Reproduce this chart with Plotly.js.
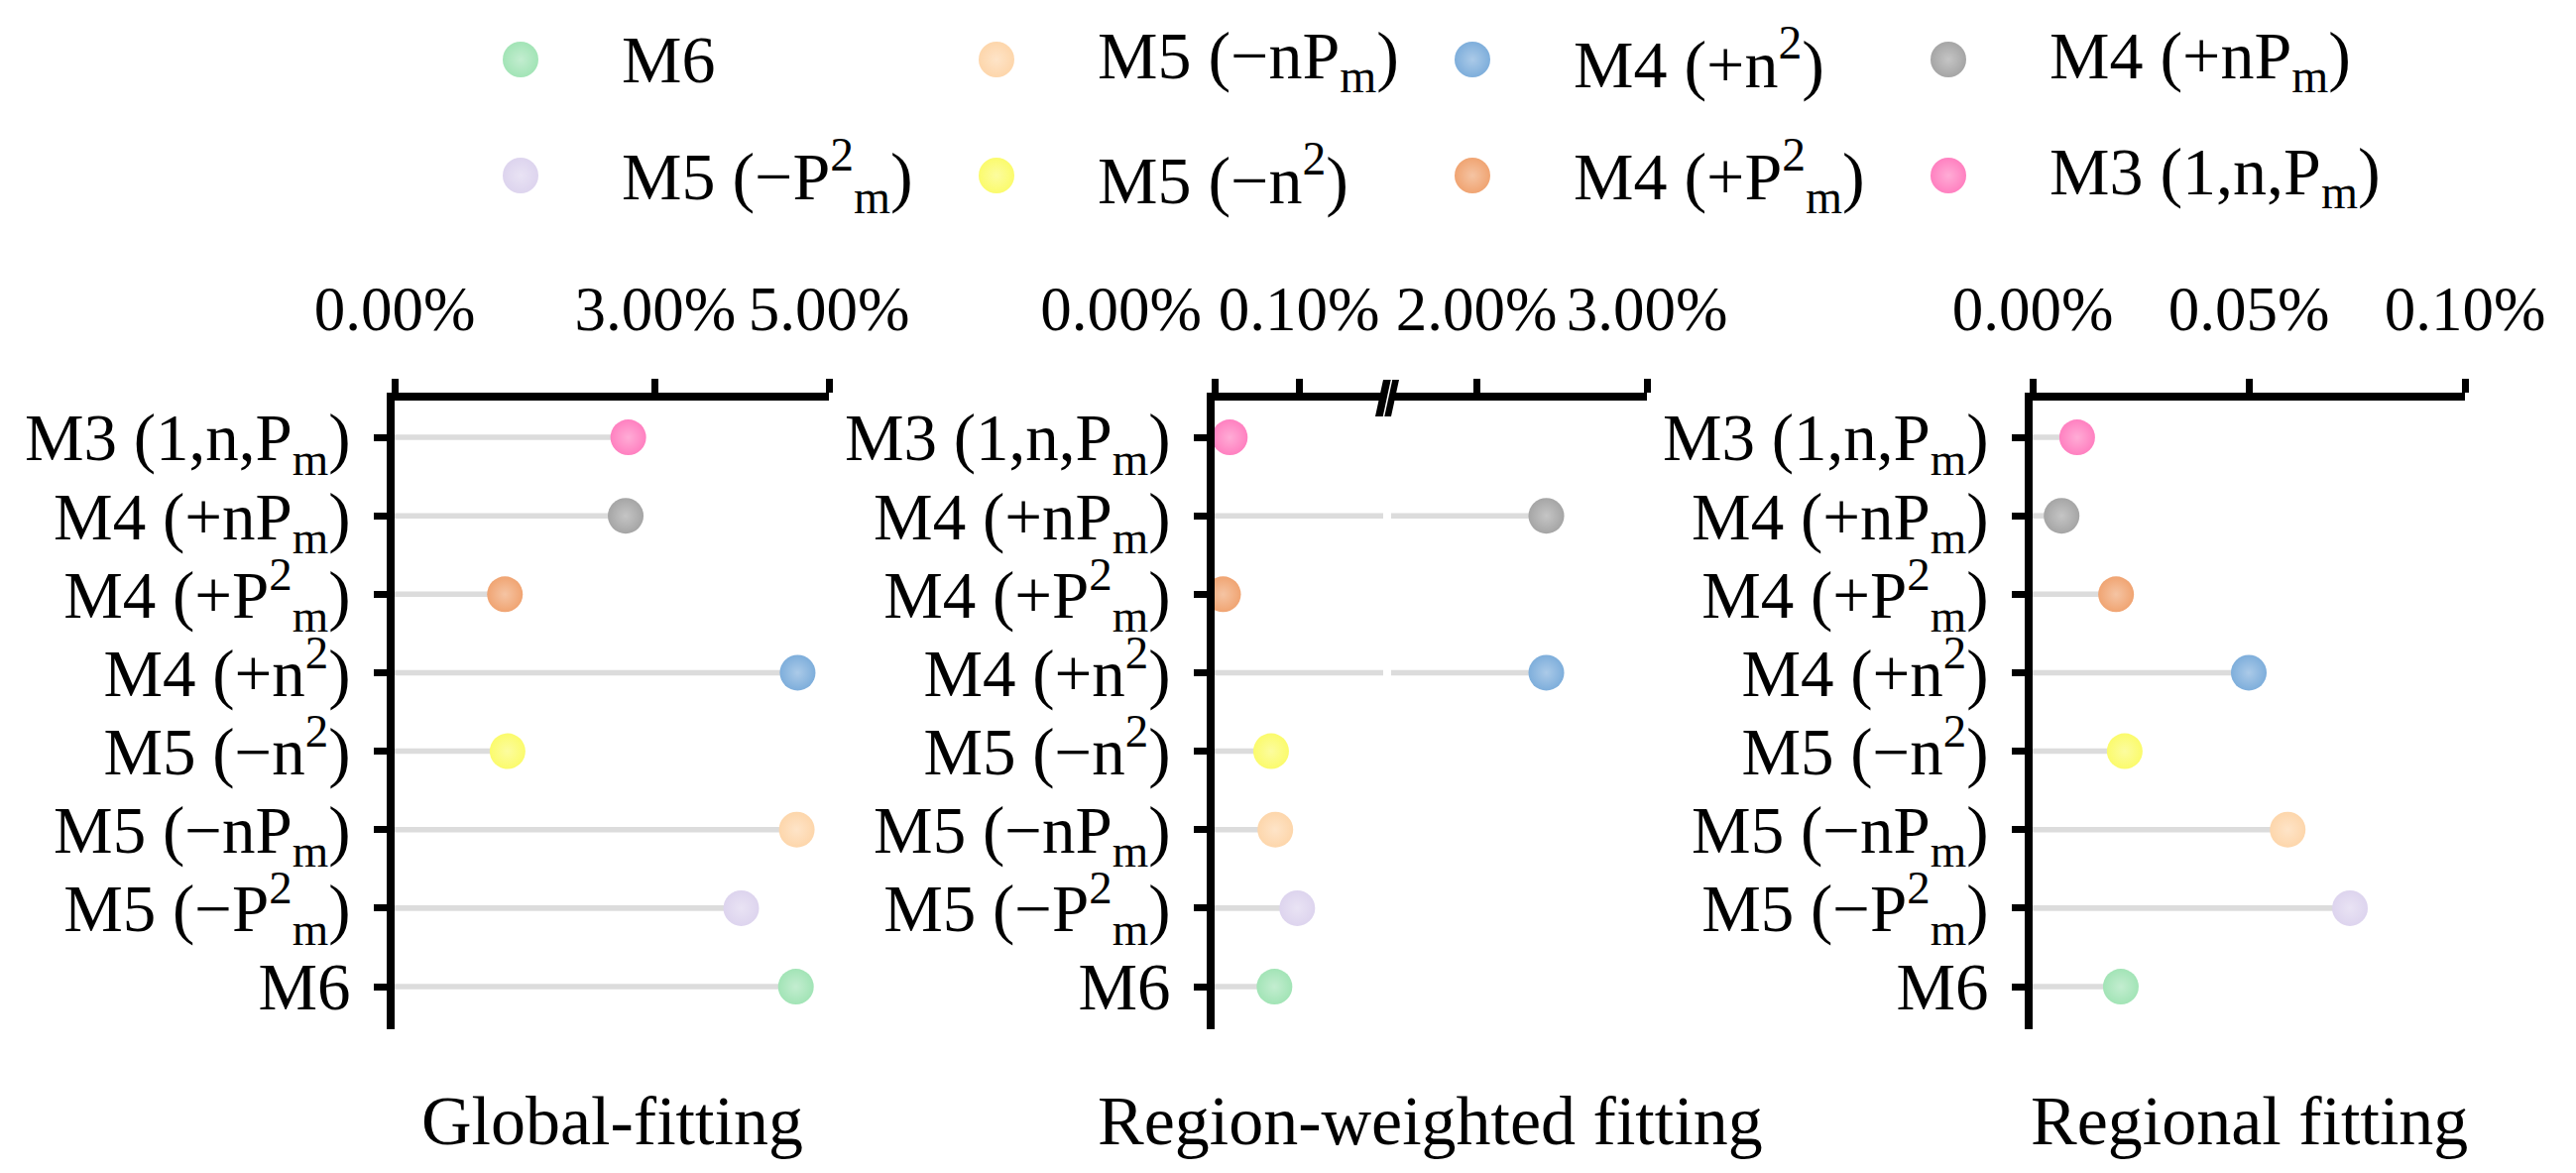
<!DOCTYPE html>
<html>
<head>
<meta charset="utf-8">
<script src="https://cdn.plot.ly/plotly-3.0.1.min.js"></script>
<style>html,body{margin:0;padding:0;background:#fff;}#chart{width:2598px;height:1183px;}</style>
</head>
<body>
<div id="chart"></div>
<script>
// ---------------- data ----------------
const categories = [
  "M3 (1,n,P<sub>m</sub>)",
  "M4 (+nP<sub>m</sub>)",
  "M4 (+P<sup>2</sup><sub>m</sub>)",
  "M4 (+n<sup>2</sup>)",
  "M5 (\u2212n<sup>2</sup>)",
  "M5 (\u2212nP<sub>m</sub>)",
  "M5 (\u2212P<sup>2</sup><sub>m</sub>)",
  "M6"
];
// error values in %
const globalFitting         = [2.69, 2.66, 1.27, 4.64, 1.30, 4.63, 3.99, 4.62];
const regionWeightedFitting = [0.018, 2.41, 0.010, 2.41, 0.067, 0.072, 0.098, 0.071];
const regionalFitting       = [0.0103, 0.0067, 0.0193, 0.0500, 0.0213, 0.0590, 0.0734, 0.0204];
const colors = ["#ff80c0", "#a5a5a5", "#f0a472", "#7eaedb", "#fbfb6c", "#fdd6ab", "#ddd4ee", "#a2e4b6"];
const panelTitles = ["Global-fitting", "Region-weighted fitting", "Regional fitting"];
const ticksGlobal = [0, 3, 5];
const ticksRWlow  = [0, 0.1];
const ticksRWhigh = [2, 3];
const ticksRegional = [0, 0.05, 0.1];

// ---------------- helpers ----------------
const W = 2598, H = 1183;
const FONT = "Liberation Serif, Times New Roman, serif";
const px = x => x / W;
const py = y => 1 - y / H;
function lighten(hex, f) {
  const n = parseInt(hex.slice(1), 16);
  const r = (n >> 16) & 255, g = (n >> 8) & 255, b = n & 255;
  const m = c => Math.round(c + (255 - c) * f);
  return "rgb(" + m(r) + "," + m(g) + "," + m(b) + ")";
}
const pct = v => v.toFixed(2) + "%";
const NB = "\u00A0";

// ---------------- traces ----------------
const panels = [
  {xa: "x",  ya: "y",  vals: globalFitting},
  {xa: "x2", ya: "y2", vals: regionWeightedFitting},
  {xa: "x3", ya: "y2", vals: regionWeightedFitting},
  {xa: "x4", ya: "y3", vals: regionalFitting}
];
const traces = [];
panels.forEach(p => {
  traces.push({
    type: "bar", orientation: "h", x: p.vals, y: categories,
    xaxis: p.xa, yaxis: p.ya, width: 0.07,
    marker: {color: "#dcdcdc", line: {width: 0}},
    hoverinfo: "skip", showlegend: false
  });
  traces.push({
    type: "scatter", mode: "markers", x: p.vals, y: categories,
    xaxis: p.xa, yaxis: p.ya, cliponaxis: true,
    marker: {size: 36, color: colors, line: {width: 0},
             gradient: {type: "radial", color: colors.map(c => lighten(c, 0.35))}},
    showlegend: false
  });
});

// legend built in its own hidden subplot (column-major over reversed categories)
const legX = [], legY = [], legC = [], legG = [];
const legendAnn = [];
categories.forEach((c, k) => {
  const r = categories.length - 1 - k;
  const col = Math.floor(r / 2), row = r % 2;
  legX.push(col); legY.push(row); legC.push(colors[k]); legG.push(lighten(colors[k], 0.35));
  legendAnn.push({
    text: c, x: col, y: row, xref: "x5", yref: "y5", xanchor: "left", yanchor: "middle",
    xshift: 100, showarrow: false, font: {family: FONT, size: 68, color: "#000"}
  });
});
traces.push({
  type: "scatter", mode: "markers", x: legX, y: legY, xaxis: "x5", yaxis: "y5",
  marker: {size: 36, color: legC, line: {width: 0}, gradient: {type: "radial", color: legG}},
  showlegend: false, hoverinfo: "skip", cliponaxis: false
});

// ---------------- layout ----------------
const yTop = 404, yBot = 1038;
const yRange = [7.543, -0.468];
function xAxis(domL, domR, range, tickvals, ticktext, anchor) {
  return {
    domain: [px(domL), px(domR)], range: range, side: "top", anchor: anchor,
    tickmode: "array", tickvals: tickvals, ticktext: ticktext, tickangle: 0,
    showgrid: false, zeroline: false, showline: true, linecolor: "#000", linewidth: 8,
    ticks: "outside", ticklen: 14, tickwidth: 7, tickcolor: "#000",
    tickfont: {family: FONT, size: 63, color: "#000"}, ticklabelstandoff: 24,
    fixedrange: true
  };
}
function yAxis(anchor) {
  return {
    domain: [py(yBot), py(yTop)], range: yRange, anchor: anchor, type: "category",
    tickmode: "array", tickvals: categories, ticktext: categories, tickangle: 0,
    showgrid: false, zeroline: false, showline: true, linecolor: "#000", linewidth: 8,
    ticks: "outside", ticklen: 13, tickwidth: 7, tickcolor: "#000",
    tickfont: {family: FONT, size: 67, color: "#000"}, ticklabelstandoff: 10,
    fixedrange: true
  };
}
const layout = {
  width: W, height: H, autosize: false,
  margin: {l: 0, r: 0, t: 0, b: 0, pad: 0},
  paper_bgcolor: "#fff", plot_bgcolor: "rgba(0,0,0,0)",
  showlegend: false, barmode: "overlay",
  font: {family: FONT, color: "#000"},
  xaxis:  xAxis(398, 836, [0, 5], ticksGlobal, ticksGlobal.map(pct), "y"),
  xaxis2: xAxis(1225, 1395, [0, 0.2], ticksRWlow,
                ticksRWlow.map((v, i) => i === 0 ? pct(v) + NB.repeat(12) : pct(v)), "y2"),
  xaxis3: xAxis(1403, 1661, [1.5, 3], ticksRWhigh, ticksRWhigh.map(pct), "y2"),
  xaxis4: xAxis(2050, 2486, [0, 0.1], ticksRegional, ticksRegional.map(pct), "y3"),
  xaxis5: {domain: [0, 1], range: [-525 / 480, (W - 525) / 480], visible: false, anchor: "y5", fixedrange: true},
  yaxis:  yAxis("x"),
  yaxis2: yAxis("x2"),
  yaxis3: yAxis("x4"),
  yaxis5: {domain: [py(355), 1], range: [(355 - 60) / 117, -60 / 117], visible: false, anchor: "x5", fixedrange: true},
  annotations: legendAnn.concat([
    {text: panelTitles[0], x: px(617),  y: py(1130), xref: "paper", yref: "paper", showarrow: false,
     xanchor: "center", yanchor: "middle", font: {family: FONT, size: 70, color: "#000"}},
    {text: panelTitles[1], x: px(1442), y: py(1130), xref: "paper", yref: "paper", showarrow: false,
     xanchor: "center", yanchor: "middle", font: {family: FONT, size: 70, color: "#000"}},
    {text: panelTitles[2], x: px(2268), y: py(1130), xref: "paper", yref: "paper", showarrow: false,
     xanchor: "center", yanchor: "middle", font: {family: FONT, size: 70, color: "#000"}}
  ]),
  shapes: [
    {type: "path", xref: "paper", yref: "paper", fillcolor: "#000", line: {width: 0},
     path: "M " + px(1387) + " " + py(420) + " L " + px(1403) + " " + py(420) +
           " L " + px(1411) + " " + py(383) + " L " + px(1395) + " " + py(383) + " Z"},
    {type: "line", xref: "paper", yref: "paper", line: {color: "#fff", width: 1.5},
     x0: px(1395.5), y0: py(420), x1: px(1403.5), y1: py(383)}
  ]
};

Plotly.newPlot("chart", traces, layout, {displayModeBar: false, staticPlot: true});
</script>
</body>
</html>
